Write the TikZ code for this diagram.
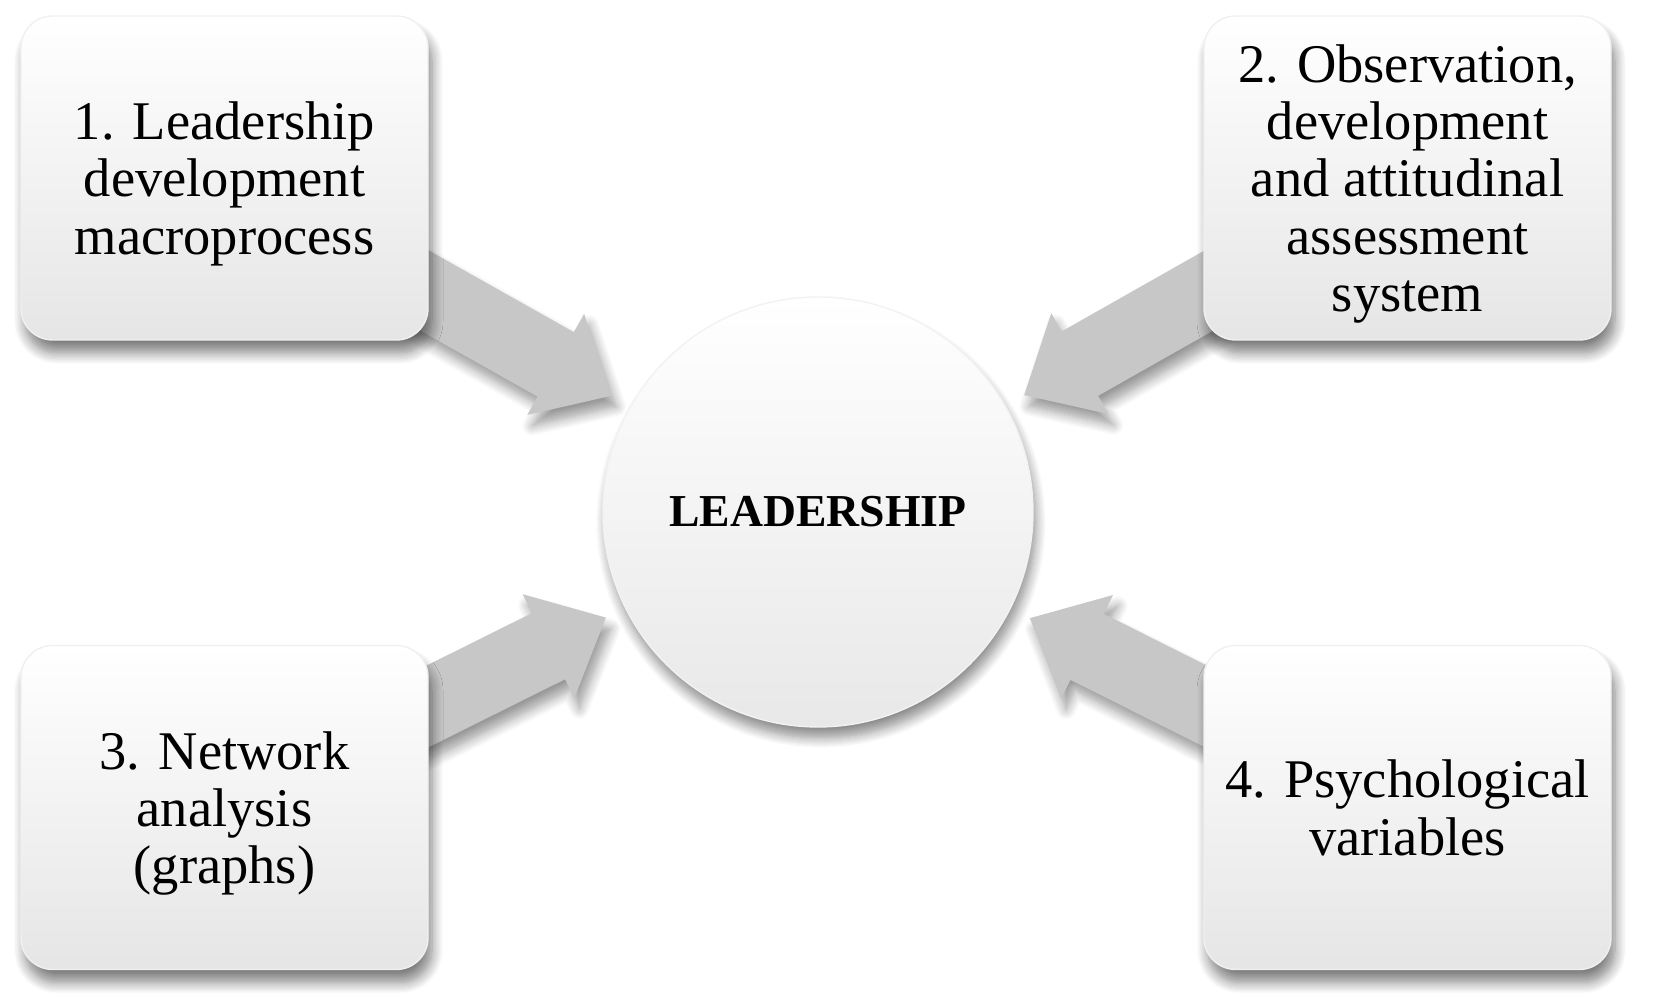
\documentclass[tikz,border=0pt]{standalone}
\usepackage{fontspec}
\setmainfont{Liberation Serif}
\usetikzlibrary{positioning,calc,backgrounds,shadows.blur}

\begin{document}
\begin{tikzpicture}[
  itembox/.style={rectangle, rounded corners=9pt, minimum width=4.07cm, minimum height=3.24cm,
                  draw=black!6, top color=white, middle color=white, bottom color=black!10,
                  blur shadow={shadow xshift=0.4mm, shadow yshift=-1.3mm, shadow opacity=50,
                               shadow blur radius=1.1mm, shadow blur steps=10},
                  font=\fontsize{15.5}{16.3}\selectfont, align=center, inner sep=0pt, text depth=0pt},
  hubcircle/.style={circle, minimum size=4.3cm, inner sep=0pt,
                  draw=black!5, top color=white, middle color=white, bottom color=black!9,
                  blur shadow={shadow xshift=0.3mm, shadow yshift=-1.1mm, shadow opacity=45,
                               shadow blur radius=1mm, shadow blur steps=10},
                  font=\fontsize{13}{15}\selectfont\bfseries},
  blockarr/.style={fill=black!22, draw=none,
                  blur shadow={shadow xshift=0.5mm, shadow yshift=-1.1mm, shadow opacity=40,
                               shadow blur radius=1mm, shadow blur steps=10}}
]
\useasboundingbox (0,0) rectangle (16.56,10);

% Centre node
\node[hubcircle] (hub) at (8.18,4.88) {LEADERSHIP};

% Corner boxes
\node[itembox] (lead) at (2.245,8.22) {1. Leadership\\development\\macroprocess};
\node[itembox] (obs)  at (14.075,8.22) {2. Observation,\\development\\and attitudinal\\assessment\\system};
\node[itembox] (net)  at (2.245,1.925) {3. Network\\analysis\\(graphs)};
\node[itembox] (psy)  at (14.075,1.925) {4. Psychological\\variables};

% Block arrows (under the boxes)
\begin{scope}[on background layer]
\foreach \b in {lead,obs,net,psy}
  \fill[blockarr] let \p1 = ($(\b.center)-(hub.center)$), \n1 = {atan2(\y1,\x1)} in
    ($(hub.center)+(\n1:2.37)$)
    -- ($(hub.center)+(\n1:3.01)+(\n1+90:0.58)$)
    -- ($(hub.center)+(\n1:3.01)+(\n1+90:0.37)$)
    -- ($(hub.center)+(\n1:5.0)+(\n1+90:0.37)$)
    -- ($(hub.center)+(\n1:5.0)+(\n1-90:0.37)$)
    -- ($(hub.center)+(\n1:3.01)+(\n1-90:0.37)$)
    -- ($(hub.center)+(\n1:3.01)+(\n1-90:0.58)$)
    -- cycle;
\end{scope}
\end{tikzpicture}
\end{document}
